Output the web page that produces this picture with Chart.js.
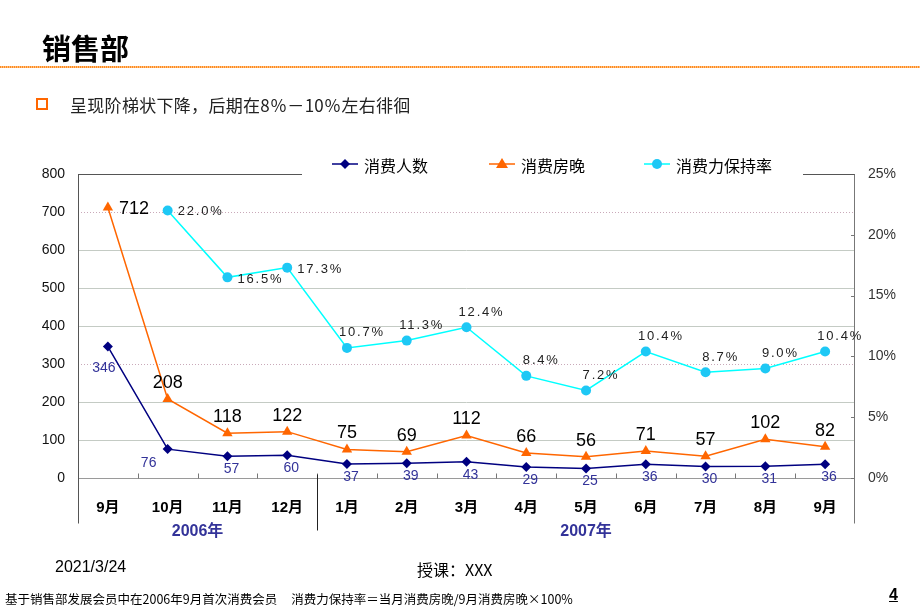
<!DOCTYPE html>
<html>
<head>
<meta charset="utf-8">
<script src="https://cdn.jsdelivr.net/npm/chart.js@4/dist/chart.umd.min.js"></script>
<style>
  html,body{margin:0;padding:0;background:#fff;}
  #wrap{position:relative;width:920px;height:607px;overflow:hidden;}
  #cv{position:absolute;left:0;top:0;width:920px;height:607px;}
  .t{position:absolute;white-space:nowrap;}
  #title{left:42px;top:26px;font:bold 29px "Noto Sans CJK SC",sans-serif;color:#000;}
  #rule{position:absolute;left:0;top:66px;width:920px;height:2px;background:repeating-linear-gradient(90deg,#FF8A1F 0 1px,#FFC080 1px 2px);}
  #bullet{position:absolute;left:36px;top:98px;width:8px;height:8px;border:2.5px solid #FF6600;}
  #sub{left:70px;top:92px;font:17px "Noto Sans CJK SC","Liberation Sans",sans-serif;color:#222;letter-spacing:0.3px;}
  #date{left:55px;top:558px;font:16px "Liberation Sans Narrow","Liberation Sans",sans-serif;color:#000;}
  #teach{left:417px;top:557px;font:16px "Liberation Sans Narrow","Noto Sans CJK SC",sans-serif;color:#000;}
  #note{left:5px;top:589px;font:12.5px "Noto Sans CJK SC","Liberation Sans Narrow",sans-serif;color:#000;}
  #pg{left:889px;top:586px;font:bold 16px "Liberation Sans",sans-serif;color:#000;text-decoration:underline;}
</style>
</head>
<body>
<div id="wrap">
  <canvas id="cv" width="920" height="607"></canvas>
  <div class="t" id="title">销售部</div>
  <div id="rule"></div>
  <div id="bullet"></div>
  <div class="t" id="sub">呈现阶梯状下降，后期在8％－10％左右徘徊</div>
  <div class="t" id="date">2021/3/24</div>
  <div class="t" id="teach">授课：XXX</div>
  <div class="t" id="note">基于销售部发展会员中在2006年9月首次消费会员&nbsp;&nbsp;&nbsp;&nbsp;&nbsp;消费力保持率＝当月消费房晚/9月消费房晚×100%</div>
  <div class="t" id="pg">4</div>
</div>
<script>
// ---- data ----
const months = ["9月","10月","11月","12月","1月","2月","3月","4月","5月","6月","7月","8月","9月"];
const years = ["2006年","2007年"];
const yearSpans = [4, 9];           // number of months in each year group
const customers = [346,76,57,60,37,39,43,29,25,36,30,31,36];          // 消费人数
const roomNights = [712,208,118,122,75,69,112,66,56,71,57,102,82];    // 消费房晚
const retention = [null,22.0,16.5,17.3,10.7,11.3,12.4,8.4,7.2,10.4,8.7,9.0,10.4]; // 消费力保持率 (%)
const seriesNames = ["消费人数","消费房晚","消费力保持率"];
const leftTicks = [0,100,200,300,400,500,600,700,800];
const rightTicks = [0,5,10,15,20,25];

const CJK = '"Noto Sans CJK SC"';

const decor = {
  id: 'decor',
  beforeDatasetsDraw(chart) {
    const {ctx, chartArea: a, scales} = chart;
    const y = scales.y, y1 = scales.y1;
    ctx.save();
    leftTicks.forEach(v => {
      if (v === 0 || v === 800) return;
      const py = Math.round(y.getPixelForValue(v)) + 0.5;
      ctx.beginPath();
      if (v === 700 || v === 300) { ctx.setLineDash([1,2]); ctx.strokeStyle = '#c9a9b9'; }
      else { ctx.setLineDash([]); ctx.strokeStyle = '#c4cbc4'; }
      ctx.lineWidth = 1;
      ctx.moveTo(a.left, py); ctx.lineTo(a.right, py); ctx.stroke();
    });
    ctx.setLineDash([]);
    const by = Math.round(y.getPixelForValue(0)) + 0.5;
    ctx.strokeStyle = '#9a9a9a';
    ctx.beginPath(); ctx.moveTo(a.left, by); ctx.lineTo(a.right, by); ctx.stroke();
    const n = months.length;
    const step = (a.right - a.left) / n;
    ctx.strokeStyle = '#777';
    for (let i = 1; i < n; i++) {
      const px = Math.round(a.left + i * step) + 0.5;
      ctx.beginPath(); ctx.moveTo(px, by - 5); ctx.lineTo(px, by); ctx.stroke();
    }
    rightTicks.forEach(v => {
      const py = Math.round(y1.getPixelForValue(v)) + 0.5;
      ctx.beginPath(); ctx.moveTo(a.right - 4, py); ctx.lineTo(a.right, py); ctx.stroke();
    });
    ctx.strokeStyle = '#555';
    const lx = Math.round(a.left) + 0.5, rx = Math.round(a.right) - 0.5;
    ctx.beginPath(); ctx.moveTo(lx, a.top); ctx.lineTo(lx, by + 45); ctx.stroke();
    ctx.strokeStyle = '#777';
    ctx.beginPath(); ctx.moveTo(rx, a.top); ctx.lineTo(rx, by + 45); ctx.stroke();
    ctx.strokeStyle = '#555';
    const ty = Math.round(a.top) + 0.5;
    ctx.beginPath(); ctx.moveTo(lx, ty); ctx.lineTo(302, ty); ctx.stroke();
    ctx.beginPath(); ctx.moveTo(803, ty); ctx.lineTo(rx, ty); ctx.stroke();
    ctx.strokeStyle = '#222';
    const sx = Math.round(a.left + yearSpans[0] * step) + 0.5;
    ctx.beginPath(); ctx.moveTo(sx, by - 4); ctx.lineTo(sx, by + 52); ctx.stroke();
    ctx.fillStyle = '#333399';
    ctx.font = 'bold 16px "Liberation Sans",' + CJK;
    ctx.textAlign = 'center'; ctx.textBaseline = 'middle';
    let start = 0;
    years.forEach((yr, k) => {
      const cx = a.left + (start + yearSpans[k] / 2) * step;
      ctx.fillText(yr, cx, by + 53);
      start += yearSpans[k];
    });
    ctx.restore();
  },
  afterDatasetsDraw(chart) {
    const {ctx} = chart;
    ctx.save();
    let meta = chart.getDatasetMeta(0);
    ctx.font = '14px "Liberation Sans",sans-serif';
    ctx.fillStyle = '#333399';
    ctx.textAlign = 'center'; ctx.textBaseline = 'middle';
    meta.data.forEach((p, i) => {
      const v = customers[i];
      if (i === 0) ctx.fillText(String(v), p.x - 4, p.y + 22);
      else if (i === 1) ctx.fillText(String(v), p.x - 19, p.y + 14);
      else ctx.fillText(String(v), p.x + 4, p.y + 13);
    });
    meta = chart.getDatasetMeta(1);
    ctx.font = '18px "Liberation Sans",sans-serif';
    ctx.fillStyle = '#000';
    meta.data.forEach((p, i) => {
      const v = roomNights[i];
      if (i === 0) { ctx.textAlign = 'left'; ctx.fillText(String(v), p.x + 11, p.y + 2); }
      else { ctx.textAlign = 'center'; ctx.fillText(String(v), p.x, p.y - 16); }
    });
    meta = chart.getDatasetMeta(2);
    ctx.font = '13px "Liberation Sans",sans-serif';
    try { ctx.letterSpacing = '1.8px'; } catch (e) {}
    ctx.fillStyle = '#222';
    meta.data.forEach((p, i) => {
      const v = retention[i];
      if (v === null || v === undefined || p.skip) return;
      const s = v.toFixed(1) + '%';
      if (i < 4) { ctx.textAlign = 'left'; ctx.fillText(s, p.x + 10, p.y + (i === 1 ? 1 : 2)); }
      else { ctx.textAlign = 'center'; ctx.fillText(s, p.x + 15, p.y - 15); }
    });
    ctx.restore();
  },
  afterDraw(chart) {
    const {ctx} = chart;
    ctx.save();
    const items = [
      {x: 345, color: '#000080', style: 'diamond'},
      {x: 502, color: '#FF6600', style: 'triangle'},
      {x: 657, color: '#00E5F5', style: 'circle'}
    ];
    const ly = 164;
    ctx.font = '16px ' + CJK;
    ctx.textBaseline = 'middle'; ctx.textAlign = 'left';
    items.forEach((it, k) => {
      ctx.strokeStyle = k === 2 ? '#00FFFF' : it.color;
      ctx.lineWidth = 1.5;
      ctx.beginPath(); ctx.moveTo(it.x - 13, ly); ctx.lineTo(it.x + 13, ly); ctx.stroke();
      ctx.fillStyle = k === 2 ? '#1EC8F5' : it.color;
      ctx.beginPath();
      if (it.style === 'diamond') { ctx.moveTo(it.x, ly - 5); ctx.lineTo(it.x + 5, ly); ctx.lineTo(it.x, ly + 5); ctx.lineTo(it.x - 5, ly); }
      else if (it.style === 'triangle') { ctx.moveTo(it.x, ly - 6); ctx.lineTo(it.x + 6, ly + 4); ctx.lineTo(it.x - 6, ly + 4); }
      else { ctx.arc(it.x, ly, 5, 0, Math.PI * 2); }
      ctx.closePath(); ctx.fill();
      ctx.fillStyle = '#000';
      ctx.fillText(seriesNames[k], it.x + 19, ly + 2);
    });
    ctx.restore();
  }
};

try {
new Chart(document.getElementById('cv'), {
  type: 'line',
  data: {
    labels: months,
    datasets: [
      {label: seriesNames[0], data: customers, yAxisID: 'y', borderColor: '#000080', backgroundColor: '#000080',
       borderWidth: 1.5, pointStyle: 'rectRot', pointRadius: 5, pointBorderWidth: 0, tension: 0},
      {label: seriesNames[1], data: roomNights, yAxisID: 'y', borderColor: '#FF6600', backgroundColor: '#FF6600',
       borderWidth: 1.5, pointStyle: 'triangle', pointRadius: 6, pointBorderWidth: 0, tension: 0},
      {label: seriesNames[2], data: retention, yAxisID: 'y1', borderColor: '#00FFFF', backgroundColor: '#1EC8F5',
       pointBorderColor: '#33CCFF', borderWidth: 1.5, pointStyle: 'circle', pointRadius: 5, pointBorderWidth: 0, tension: 0, spanGaps: false}
    ]
  },
  options: {
    responsive: false,
    animation: false,
    devicePixelRatio: 1,
    layout: {padding: {top: 174, left: 0, right: 0, bottom: 0}},
    plugins: {legend: {display: false}, tooltip: {enabled: false}},
    scales: {
      x: {
        offset: true,
        grid: {display: false, drawTicks: false},
        border: {display: false},
        ticks: {color: '#000', font: {family: '"Liberation Sans",' + CJK, size: 15, weight: 'bold'}, padding: 21, maxRotation: 0, autoSkip: false},
        afterFit(s) { s.height = 129; }
      },
      y: {
        position: 'left', min: 0, max: 800,
        grid: {display: false, drawTicks: false},
        border: {display: false},
        ticks: {color: '#111', font: {family: '"Liberation Sans"', size: 14}, padding: 13, stepSize: 100},
        afterFit(s) { s.width = 78; }
      },
      y1: {
        position: 'right', min: 0, max: 25,
        grid: {display: false, drawTicks: false},
        border: {display: false},
        ticks: {color: '#333', font: {family: '"Liberation Sans Narrow","Liberation Sans"', size: 14}, padding: 13, stepSize: 5, callback: v => v + '%'},
        afterFit(s) { s.width = 65; }
      }
    }
  },
  plugins: [decor]
});
} catch (e) { document.body.insertAdjacentHTML('beforeend', '<pre>' + e.stack + '</pre>'); }
</script>
</body>
</html>
